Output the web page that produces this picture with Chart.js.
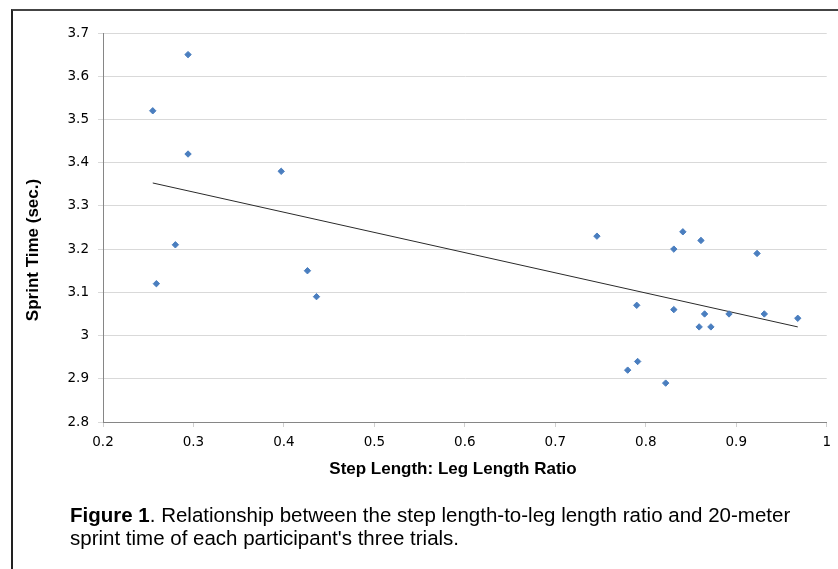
<!DOCTYPE html>
<html>
<head>
<meta charset="utf-8">
<script src="https://cdn.jsdelivr.net/npm/chart.js@4.4.0/dist/chart.umd.min.js"></script>
<style>
  html, body { margin: 0; padding: 0; background: #fff; }
  #wrap { position: relative; width: 838px; height: 569px; overflow: hidden; }
  #frame { position: absolute; left: 11px; top: 9px; width: 840px; height: 600px;
           border-left: 2px solid #222; border-top: 2px solid #444; }
  #caption { position: absolute; left: 70px; top: 503px; width: 768px; white-space: nowrap;
             font-family: "Liberation Sans", Arial, sans-serif; font-size: 20.5px;
             line-height: 23px; color: #000; }
  canvas { position: absolute; left: 0; top: 0; }
</style>
</head>
<body>
<div id="wrap">
  <div id="frame"></div>
  <canvas id="myChart" width="838" height="569"></canvas>
  <div id="caption"><b>Figure 1</b>. Relationship between the step length-to-leg length ratio and 20-meter<br>sprint time of each participant's three trials.</div>
</div>
<script>
// values
const stepRatio = [0.294, 0.255, 0.294, 0.397, 0.280, 0.259, 0.426, 0.436,
                   0.746, 0.841, 0.861, 0.831, 0.923, 0.790, 0.831, 0.865,
                   0.892, 0.931, 0.968, 0.859, 0.872, 0.791, 0.780, 0.822];
const sprintTime = [3.65, 3.52, 3.42, 3.38, 3.21, 3.12, 3.15, 3.09,
                    3.23, 3.24, 3.22, 3.20, 3.19, 3.07, 3.06, 3.05,
                    3.05, 3.05, 3.04, 3.02, 3.02, 2.94, 2.92, 2.89];

// linear trendline end points
const trendX = [0.255, 0.968];
const trendY = [3.353, 3.020];

const xTicks = [0.2, 0.3, 0.4, 0.5, 0.6, 0.7, 0.8, 0.9, 1];
const yTicks = [2.8, 2.9, 3, 3.1, 3.2, 3.3, 3.4, 3.5, 3.6, 3.7];

const xTitle = 'Step Length: Leg Length Ratio';
const yTitle = 'Sprint Time (sec.)';

Chart.defaults.font.family = '"Liberation Sans", Arial, sans-serif';
Chart.defaults.color = '#000';

// tick labels in the picture are a bit wide, DejaVu gets close
const tickFont = { family: '"DejaVu Sans", sans-serif', size: 13.5 };

// axis titles drawn at the spots Excel put them
const axisTitles = {
    id: 'axisTitles',
    afterDraw(chart) {
        const ctx = chart.ctx;
        ctx.save();
        ctx.fillStyle = '#000';
        ctx.font = 'bold 17px "Liberation Sans", Arial, sans-serif';
        ctx.textAlign = 'center';
        ctx.textBaseline = 'middle';
        ctx.fillText(xTitle, 453, 469);
        ctx.translate(33, 250);
        ctx.rotate(-Math.PI / 2);
        ctx.fillText(yTitle, 0, 0);
        ctx.restore();
    }
};

const points = stepRatio.map((x, i) => ({ x: x, y: sprintTime[i] }));
const trend = trendX.map((x, i) => ({ x: x, y: trendY[i] }));

const ctx = document.getElementById('myChart').getContext('2d');
const myChart = new Chart(ctx, {
    type: 'scatter',
    data: {
        datasets: [
            {
                label: 'Trials',
                data: points,
                pointStyle: 'rectRot',
                pointRadius: 3.2,
                backgroundColor: '#4a7ebf',
                borderColor: '#4a7ebf',
                borderWidth: 1,
            },
            {
                label: 'Linear',
                type: 'line',
                data: trend,
                showLine: true,
                pointRadius: 0,
                borderColor: '#2a2a2a',
                borderWidth: 1,
                fill: false,
            },
        ],
    },
    options: {
        responsive: false,
        animation: false,
        layout: { padding: { left: 0, top: 33, right: 7, bottom: 117 } },
        plugins: {
            legend: { display: false },
            tooltip: { enabled: false },
        },
        scales: {
            x: {
                type: 'linear',
                min: 0.2,
                max: 1,
                afterBuildTicks: (scale) => { scale.ticks = xTicks.map(v => ({ value: v })); },
                afterFit: (scale) => { scale.height = 30; },
                ticks: {
                    font: tickFont,
                    padding: 7,
                    maxRotation: 0,
                    callback: (v) => String(Number(v.toFixed(1))),
                },
                grid: { drawOnChartArea: false, tickLength: 5, color: '#d0d0d0' },
                border: { color: '#868686' },
            },
            y: {
                type: 'linear',
                min: 2.8,
                max: 3.7,
                afterBuildTicks: (scale) => { scale.ticks = yTicks.map(v => ({ value: v })); },
                afterFit: (scale) => { scale.width = 103; },
                ticks: {
                    font: tickFont,
                    padding: 9,
                    callback: (v) => String(Number(v.toFixed(1))),
                },
                grid: { color: '#d9d9d9', tickLength: 5 },
                border: { color: '#868686' },
            },
        },
    },
    plugins: [axisTitles],
});
</script>
</body>
</html>
